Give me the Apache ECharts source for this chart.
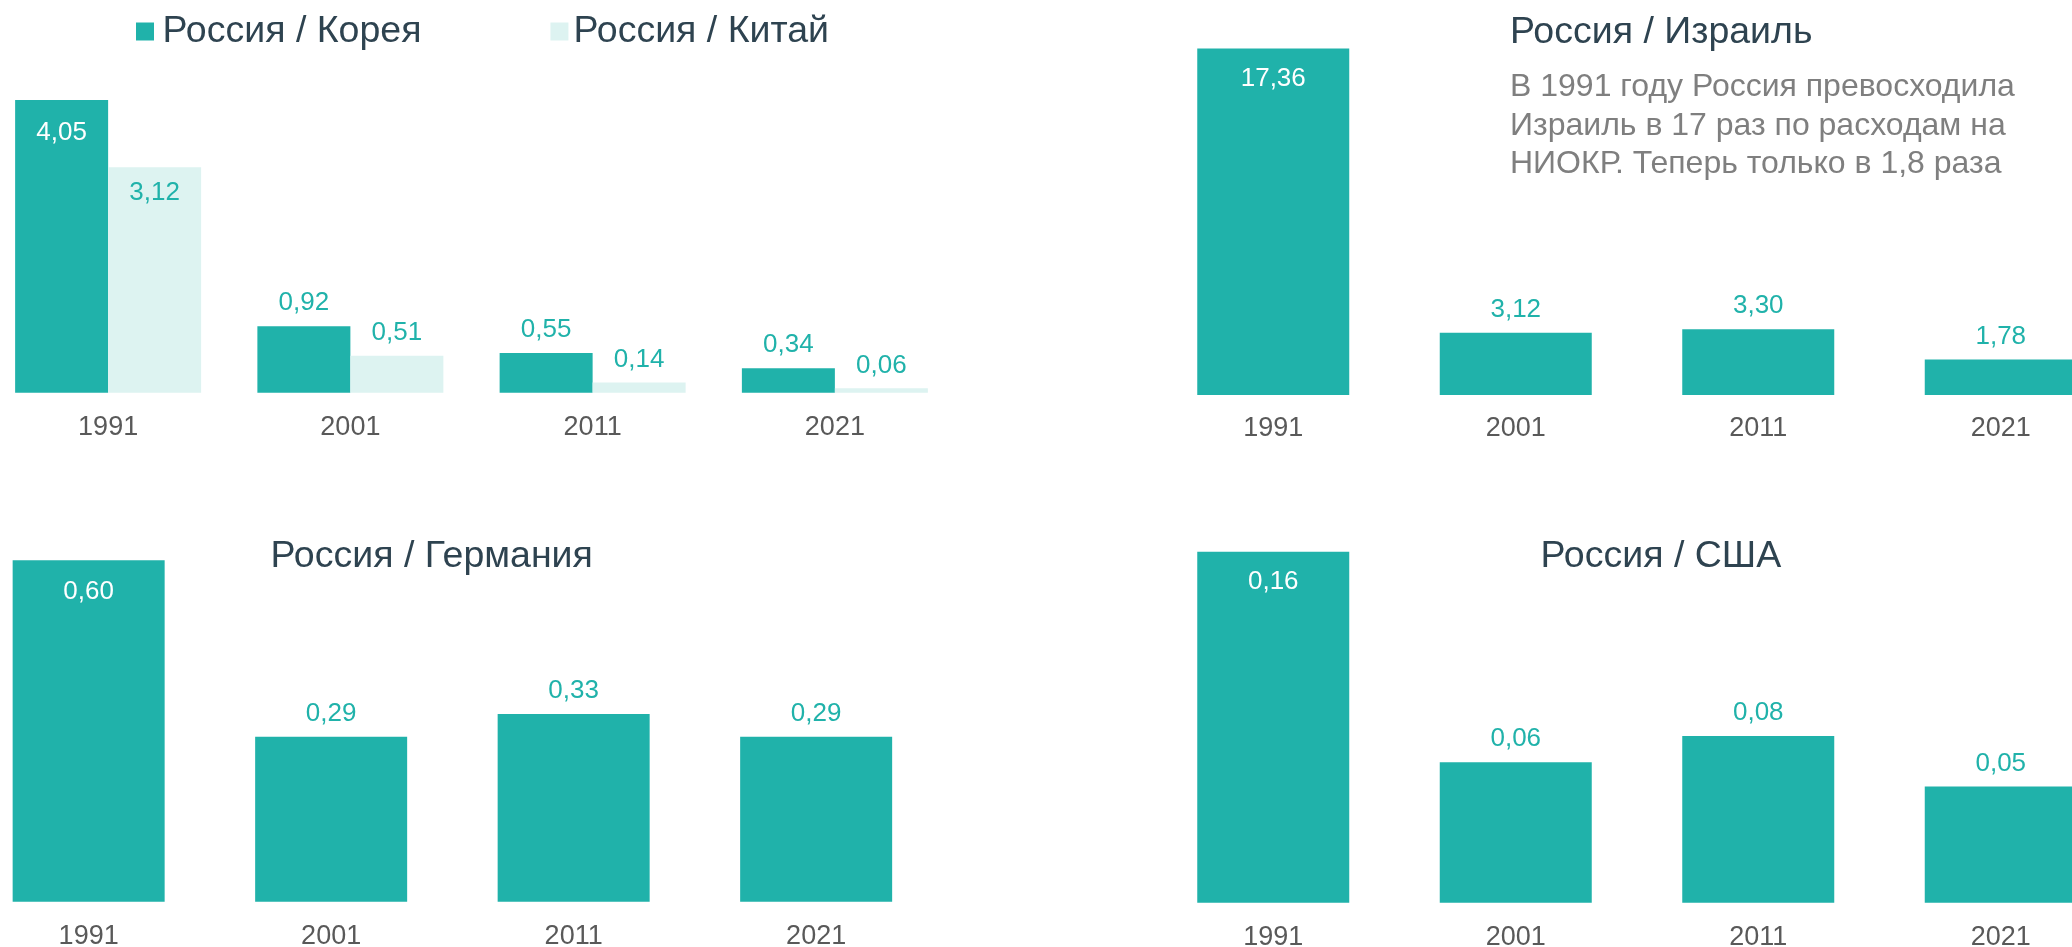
<!DOCTYPE html>
<html>
<head>
<meta charset="utf-8">
<script src="https://cdn.jsdelivr.net/npm/echarts@6/dist/echarts.min.js"></script>
<style>
  html, body { margin: 0; padding: 0; background: #fff; }
  #main { width: 2072px; height: 947px; }
</style>
</head>
<body>
<div id="main"></div>
<script>
// данные
var years = ['1991', '2001', '2011', '2021'];
var korea = [4.05, 0.92, 0.55, 0.34];
var china = [3.12, 0.51, 0.14, 0.06];
var israel = [17.36, 3.12, 3.30, 1.78];
var germany = [0.60, 0.29, 0.33, 0.29];
var usa = [0.16, 0.064, 0.076, 0.053];
var legendNames = ['Россия / Корея', 'Россия / Китай'];
var titles = ['Россия / Израиль', 'Россия / Германия', 'Россия / США'];
var note = ['В 1991 году Россия превосходила', 'Израиль в 17 раз по расходам на', 'НИОКР. Теперь только в 1,8 раза'];

var FONT = '"Liberation Sans", Arial, sans-serif';
var TEAL = '#20B2AA';
var LIGHT = '#DDF3F1';
var DARK = '#2E4350';

function fmt(p) {
  return p.value.toFixed(2).replace('.', ',');
}

// первый столбик подписан внутри, остальные сверху
function makeData(values, firstColor, firstDist) {
  return values.map(function (v, i) {
    if (i > 0) return v;
    return { value: v, label: { position: 'insideTop', color: firstColor, distance: firstDist } };
  });
}

function barSeries(name, idx, values, color, width, firstColor, firstDist) {
  return {
    name: name,
    type: 'bar',
    xAxisIndex: idx,
    yAxisIndex: idx,
    barWidth: width,
    barGap: '0%',
    itemStyle: { color: color },
    label: {
      show: true, position: 'top', distance: 10, formatter: fmt,
      color: TEAL, fontSize: 26, fontFamily: FONT
    },
    data: makeData(values, firstColor, firstDist)
  };
}

var grids = [
  { left: -13, top: 100, width: 969, height: 292.7 },
  { left: 1152, top: 48.5, width: 970, height: 346.5 },
  { left: -32.6, top: 560.3, width: 970, height: 341.4 },
  { left: 1152, top: 551.7, width: 970, height: 351 }
];
var labelMargins = [21, 20, 21, 21];

var xAxes = [], yAxes = [];
grids.forEach(function (g, i) {
  g.outerBoundsMode = 'none';
  xAxes.push({
    type: 'category', gridIndex: i, data: years,
    axisLine: { show: false, onZero: false }, axisTick: { show: false }, splitLine: { show: false },
    axisLabel: { color: '#595959', fontSize: 27, fontFamily: FONT, margin: labelMargins[i] }
  });
  yAxes.push({ type: 'value', gridIndex: i, min: 0, max: 'dataMax', show: false, splitLine: { show: false } });
});

var option = {
  animation: false,
  backgroundColor: '#fff',
  grid: grids,
  xAxis: xAxes,
  yAxis: yAxes,
  legend: {
    data: [
      { name: legendNames[0] },
      { name: legendNames[1], textStyle: { padding: [0, 0, 0, 0] } }
    ],
    left: 136, top: 12.5, padding: 0,
    icon: 'rect', itemWidth: 18, itemHeight: 18, itemGap: 129,
    textStyle: { fontSize: 37.5, color: DARK, fontFamily: FONT, padding: [0, 0, 0, 3.5] }
  },
  graphic: [
    { type: 'text', x: 1510, y: 32.5, style: { text: titles[0], fill: DARK, font: '37.5px ' + FONT, verticalAlign: 'middle' } },
    { type: 'text', x: 1510, y: 68.5, style: { text: note.join('\n'), fill: '#7F7F7F', font: '32px ' + FONT, lineHeight: 38.3, verticalAlign: 'top' } },
    { type: 'text', x: 270.5, y: 557, style: { text: titles[1], fill: DARK, font: '37.5px ' + FONT, verticalAlign: 'middle' } },
    { type: 'text', x: 1540.5, y: 557, style: { text: titles[2], fill: DARK, font: '37.5px ' + FONT, verticalAlign: 'middle' } }
  ],
  series: [
    barSeries(legendNames[0], 0, korea, TEAL, 93, '#fff', 20),
    barSeries(legendNames[1], 0, china, LIGHT, 93, TEAL, 12.5),
    barSeries('Израиль', 1, israel, TEAL, 152, '#fff', 17.5),
    barSeries('Германия', 2, germany, TEAL, 152, '#fff', 19),
    barSeries('США', 3, usa, TEAL, 152, '#fff', 17.5)
  ]
};

var myChart = echarts.init(document.getElementById('main'), null, { renderer: 'canvas' });
myChart.setOption(option);
</script>
</body>
</html>
